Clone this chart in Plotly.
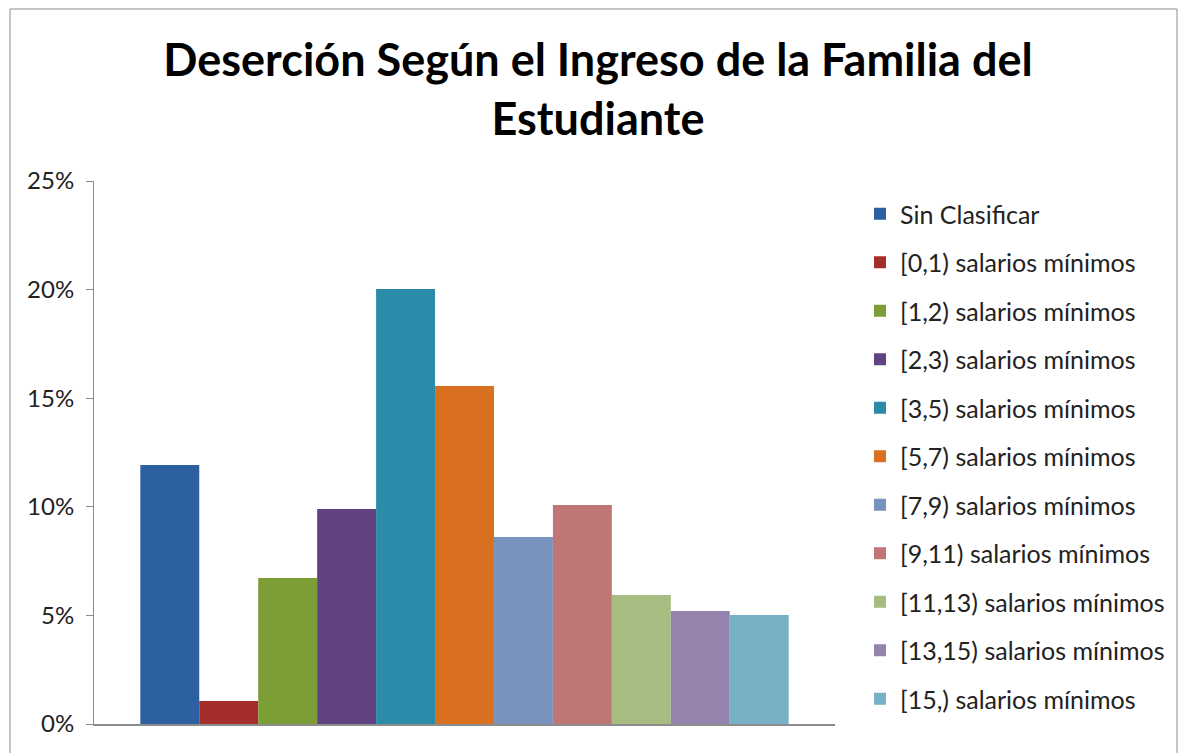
import plotly.graph_objects as go

categories = ["Sin Clasificar", "[0,1) salarios mínimos", "[1,2) salarios mínimos",
              "[2,3) salarios mínimos", "[3,5) salarios mínimos", "[5,7) salarios mínimos",
              "[7,9) salarios mínimos", "[9,11) salarios mínimos", "[11,13) salarios mínimos",
              "[13,15) salarios mínimos", "[15,) salarios mínimos"]
values = [0.1192, 0.0106, 0.0672, 0.0990, 0.2003, 0.1556, 0.0861, 0.1008, 0.0594, 0.0520, 0.0502]
colors = ["#2C60A0", "#A52E2C", "#7D9E37", "#604380", "#2A8CA8", "#D87020",
          "#7A92BE", "#C07675", "#A6BC80", "#9583AE", "#78B0C6"]
y_ticks = [0, 0.05, 0.10, 0.15, 0.20, 0.25]
y_tick_labels = ["0%", "5%", "10%", "15%", "20%", "25%"]

FONT = "Lato"

fig = go.Figure()
for i, (name, v, c) in enumerate(zip(categories, values, colors)):
    fig.add_trace(go.Bar(x=[""], y=[v], name=name, marker=dict(color=c, line=dict(width=0)),
                         legendgroup=f"g{i}"))

W, H = 1187, 753
OFF = 8  # page body margin
L, R, T, B = 94 - OFF, 835 - OFF, 181 - OFF, 724 - OFF
fig.update_layout(
    width=W, height=H,
    margin=dict(l=L, r=W - R, t=T, b=H - B, autoexpand=False),
    paper_bgcolor="white", plot_bgcolor="white",
    barmode="group", bargap=0.125, bargroupgap=0,
    font=dict(family=FONT, size=24, color="#222222"),
    title=dict(text="<b>Deserción Según el Ingreso de la Familia del<br>Estudiante</b>",
               x=(598 - OFF) / W, xanchor="center", y=1 - (91 - 15 - OFF) / H, yanchor="middle",
               font=dict(family=FONT, size=45, color="#000000")),
    showlegend=True,
    legend=dict(x=(860 - OFF - L) / (R - L), xanchor="left", y=(B - (191 - OFF)) / (B - T),
                yanchor="top", tracegroupgap=13, maxheight=720,
                font=dict(family=FONT, size=25, color="#222222"),
                bgcolor="rgba(0,0,0,0)"),
    xaxis=dict(showticklabels=False, showline=True, linecolor="#8c8c8c", linewidth=2,
               ticks="", showgrid=False, zeroline=False),
    yaxis=dict(range=[0, 0.25], tickvals=y_ticks, ticktext=y_tick_labels,
               showline=True, linecolor="#8c8c8c", linewidth=1, ticks="outside",
               ticklen=7, tickcolor="#8c8c8c", showgrid=False, zeroline=False,
               ticklabelstandoff=7,
               tickfont=dict(family=FONT, size=24, color="#222222")),
)
fig.add_shape(type="rect", xref="paper", yref="paper",
              x0=(10 - OFF - L) / (R - L), x1=(1177 - OFF - L) / (R - L),
              y0=(B - 790) / (B - T), y1=(B - (8 - OFF) - 1) / (B - T),
              line=dict(color="#8c8c8c", width=1), fillcolor="rgba(0,0,0,0)", layer="below")

fig.write_html("out.html")
